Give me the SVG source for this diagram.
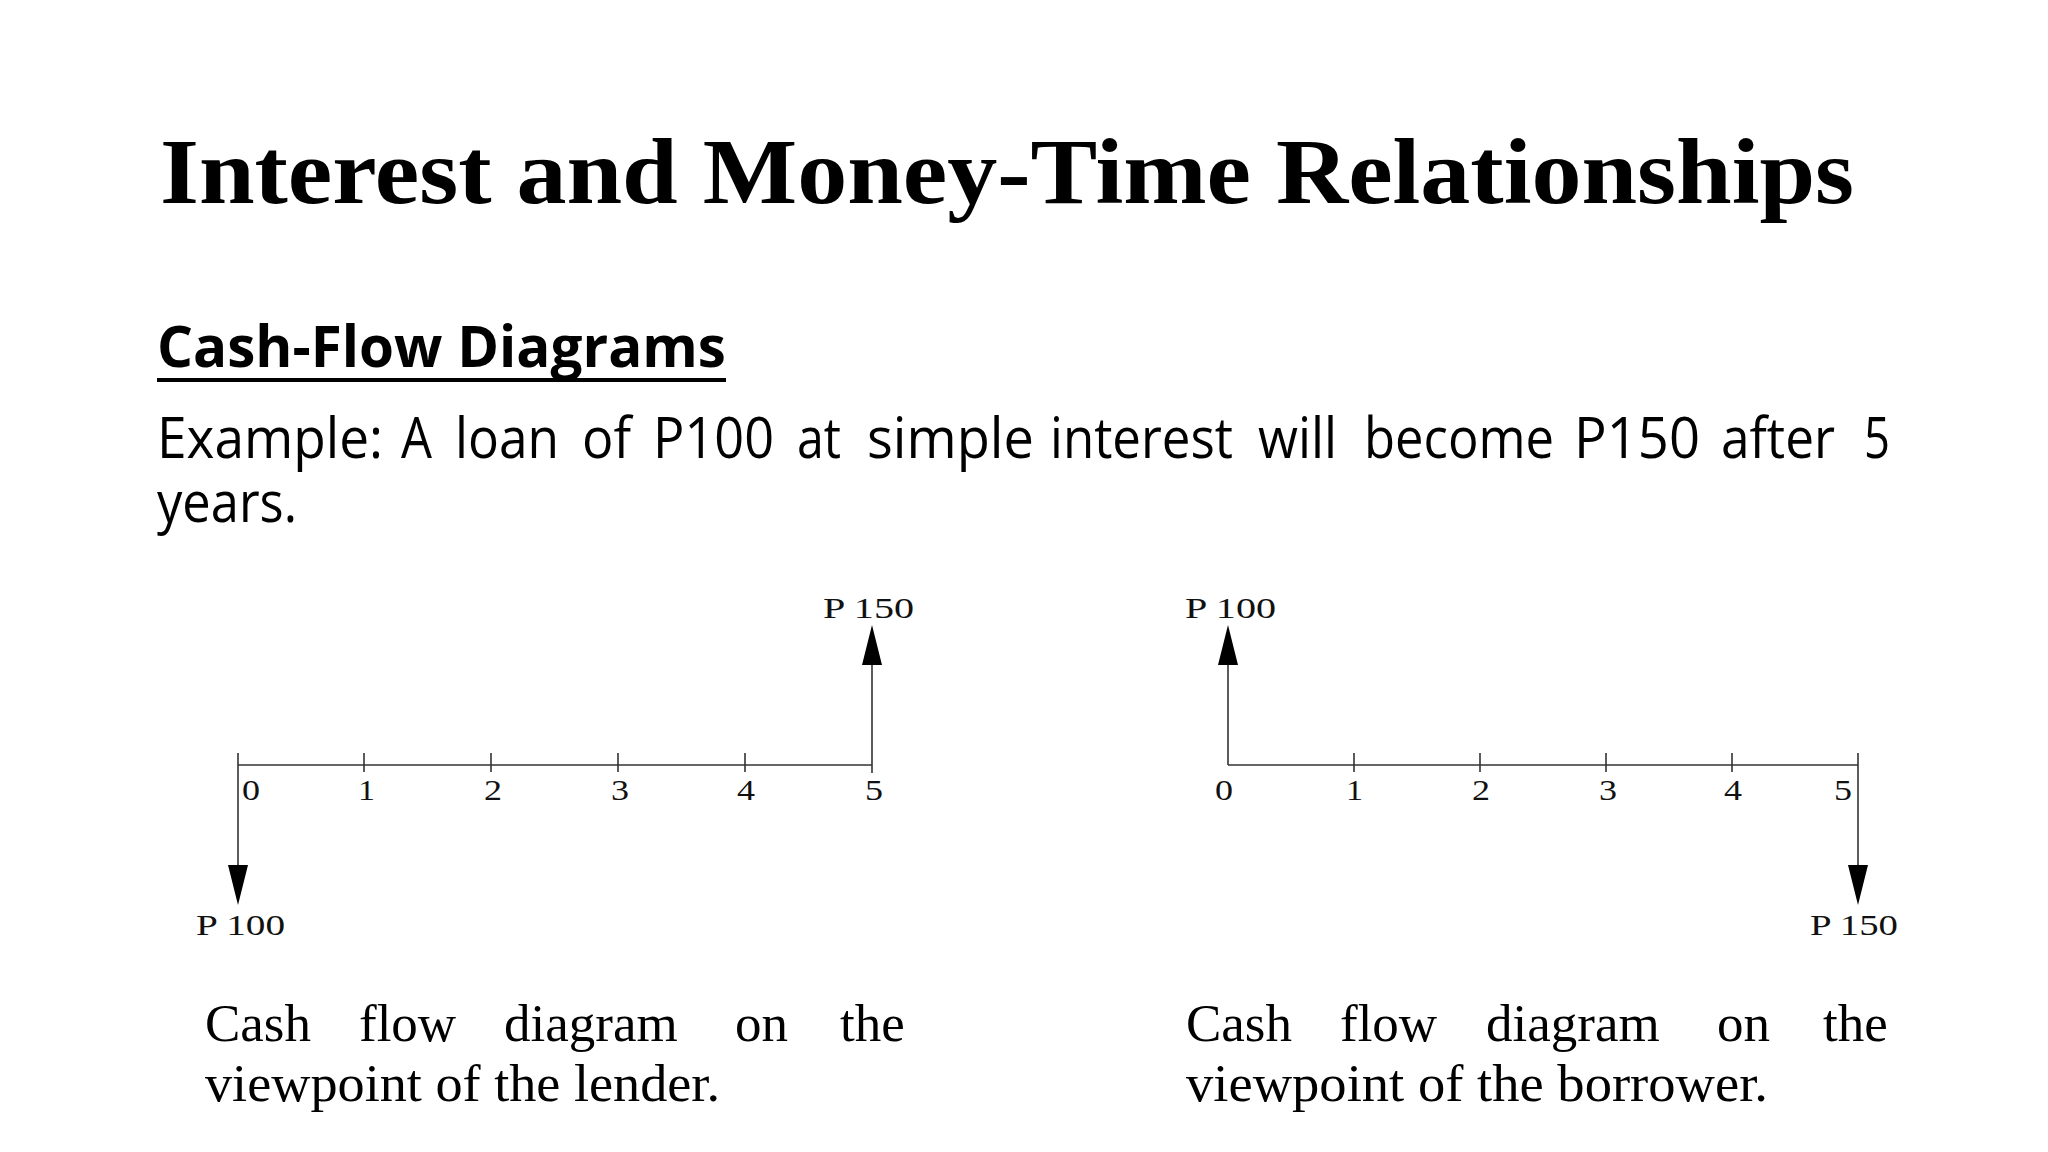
<svg xmlns="http://www.w3.org/2000/svg" width="2048" height="1152" viewBox="0 0 2048 1152">
  <style>
    .title { font-family: "Liberation Serif", "DejaVu Serif", serif; font-weight: bold; font-size: 94px; fill: #000; }
    .sub { font-family: "Open Sans", "Liberation Sans", sans-serif; font-weight: bold; font-size: 57px; fill: #000; }
    .body { font-family: "Open Sans", "Liberation Sans", sans-serif; font-size: 56px; fill: #000; }
    .cap { font-family: "Liberation Serif", "DejaVu Serif", serif; font-size: 53px; fill: #000; }
    .lbl { font-family: "Liberation Serif", "DejaVu Serif", serif; font-size: 30px; fill: #111; }
    .axis { stroke: #333; stroke-width: 1.6; fill: none; }
    .head { fill: #000; }
  </style>
  <defs>
    <path id="headUp" d="M0,0 L-10,40 L10,40 Z"/>
    <path id="headDown" d="M0,0 L-10,-40 L10,-40 Z"/>
  </defs>
  <rect x="0" y="0" width="2048" height="1152" fill="#fff"/>

  <g id="title">
    <text class="title" x="160" y="203" textLength="1694" lengthAdjust="spacingAndGlyphs">Interest and Money-Time Relationships</text>
  </g>

  <g id="subtitle">
    <text class="sub" x="157" y="367" textLength="569" lengthAdjust="spacingAndGlyphs">Cash-Flow Diagrams</text>
    <rect x="157" y="378" width="569" height="4" fill="#000"/>
  </g>

  <g id="example">
    <text class="body" x="157" y="458" textLength="226" lengthAdjust="spacingAndGlyphs">Example:</text>
    <text class="body" x="401" y="458" textLength="31" lengthAdjust="spacingAndGlyphs">A</text>
    <text class="body" x="455" y="458" textLength="104" lengthAdjust="spacingAndGlyphs">loan</text>
    <text class="body" x="582" y="458" textLength="49" lengthAdjust="spacingAndGlyphs">of</text>
    <text class="body" x="653" y="458" textLength="121" lengthAdjust="spacingAndGlyphs">P100</text>
    <text class="body" x="797" y="458" textLength="44" lengthAdjust="spacingAndGlyphs">at</text>
    <text class="body" x="867" y="458" textLength="167" lengthAdjust="spacingAndGlyphs">simple</text>
    <text class="body" x="1050" y="458" textLength="183" lengthAdjust="spacingAndGlyphs">interest</text>
    <text class="body" x="1258" y="458" textLength="79" lengthAdjust="spacingAndGlyphs">will</text>
    <text class="body" x="1364" y="458" textLength="190" lengthAdjust="spacingAndGlyphs">become</text>
    <text class="body" x="1574" y="458" textLength="126" lengthAdjust="spacingAndGlyphs">P150</text>
    <text class="body" x="1721" y="458" textLength="114" lengthAdjust="spacingAndGlyphs">after</text>
    <text class="body" x="1864" y="458" textLength="26" lengthAdjust="spacingAndGlyphs">5</text>
    <text class="body" x="157" y="522" textLength="140" lengthAdjust="spacingAndGlyphs">years.</text>
  </g>

  <g id="connectors">
    <!-- Lender diagram -->
    <line class="axis" x1="238" y1="765" x2="872" y2="765"/>
    <line class="axis" x1="238" y1="753" x2="238" y2="868"/>
    <line class="axis" x1="364" y1="753" x2="364" y2="772"/>
    <line class="axis" x1="491" y1="753" x2="491" y2="772"/>
    <line class="axis" x1="618" y1="753" x2="618" y2="772"/>
    <line class="axis" x1="745" y1="753" x2="745" y2="772"/>
    <line class="axis" x1="872" y1="773" x2="872" y2="662"/>
    <use href="#headUp" class="head" x="872" y="625"/>
    <use href="#headDown" class="head" x="238" y="905"/>

    <!-- Borrower diagram -->
    <line class="axis" x1="1228" y1="765" x2="1858" y2="765"/>
    <line class="axis" x1="1228" y1="765" x2="1228" y2="662"/>
    <line class="axis" x1="1354" y1="753" x2="1354" y2="772"/>
    <line class="axis" x1="1480" y1="753" x2="1480" y2="772"/>
    <line class="axis" x1="1606" y1="753" x2="1606" y2="772"/>
    <line class="axis" x1="1732" y1="753" x2="1732" y2="772"/>
    <line class="axis" x1="1858" y1="753" x2="1858" y2="868"/>
    <use href="#headUp" class="head" x="1228" y="625"/>
    <use href="#headDown" class="head" x="1858" y="905"/>
  </g>

  <g id="lender-diagram">
    <text class="lbl" x="823" y="618" textLength="91" lengthAdjust="spacingAndGlyphs">P 150</text>
    <text class="lbl" x="196" y="935" textLength="89" lengthAdjust="spacingAndGlyphs">P 100</text>
    <text class="lbl" x="242" y="800" textLength="18" lengthAdjust="spacingAndGlyphs">0</text>
    <text class="lbl" x="358" y="800" textLength="17" lengthAdjust="spacingAndGlyphs">1</text>
    <text class="lbl" x="484" y="800" textLength="18" lengthAdjust="spacingAndGlyphs">2</text>
    <text class="lbl" x="611" y="800" textLength="18" lengthAdjust="spacingAndGlyphs">3</text>
    <text class="lbl" x="737" y="800" textLength="18" lengthAdjust="spacingAndGlyphs">4</text>
    <text class="lbl" x="865" y="800" textLength="18" lengthAdjust="spacingAndGlyphs">5</text>
  </g>

  <g id="borrower-diagram">
    <text class="lbl" x="1185" y="618" textLength="91" lengthAdjust="spacingAndGlyphs">P 100</text>
    <text class="lbl" x="1810" y="935" textLength="88" lengthAdjust="spacingAndGlyphs">P 150</text>
    <text class="lbl" x="1215" y="800" textLength="18" lengthAdjust="spacingAndGlyphs">0</text>
    <text class="lbl" x="1346" y="800" textLength="17" lengthAdjust="spacingAndGlyphs">1</text>
    <text class="lbl" x="1472" y="800" textLength="18" lengthAdjust="spacingAndGlyphs">2</text>
    <text class="lbl" x="1599" y="800" textLength="18" lengthAdjust="spacingAndGlyphs">3</text>
    <text class="lbl" x="1724" y="800" textLength="18" lengthAdjust="spacingAndGlyphs">4</text>
    <text class="lbl" x="1834" y="800" textLength="18" lengthAdjust="spacingAndGlyphs">5</text>
  </g>

  <g id="caption-lender">
    <text class="cap" y="1041"><tspan x="205">Cash</tspan><tspan x="359">flow</tspan><tspan x="504">diagram</tspan><tspan x="735">on</tspan><tspan x="840">the</tspan></text>
    <text class="cap" x="205" y="1101" textLength="515" lengthAdjust="spacingAndGlyphs">viewpoint of the lender.</text>
  </g>

  <g id="caption-borrower">
    <text class="cap" y="1041"><tspan x="1186">Cash</tspan><tspan x="1340">flow</tspan><tspan x="1486">diagram</tspan><tspan x="1717">on</tspan><tspan x="1823">the</tspan></text>
    <text class="cap" x="1186" y="1101" textLength="582" lengthAdjust="spacingAndGlyphs">viewpoint of the borrower.</text>
  </g>
</svg>
